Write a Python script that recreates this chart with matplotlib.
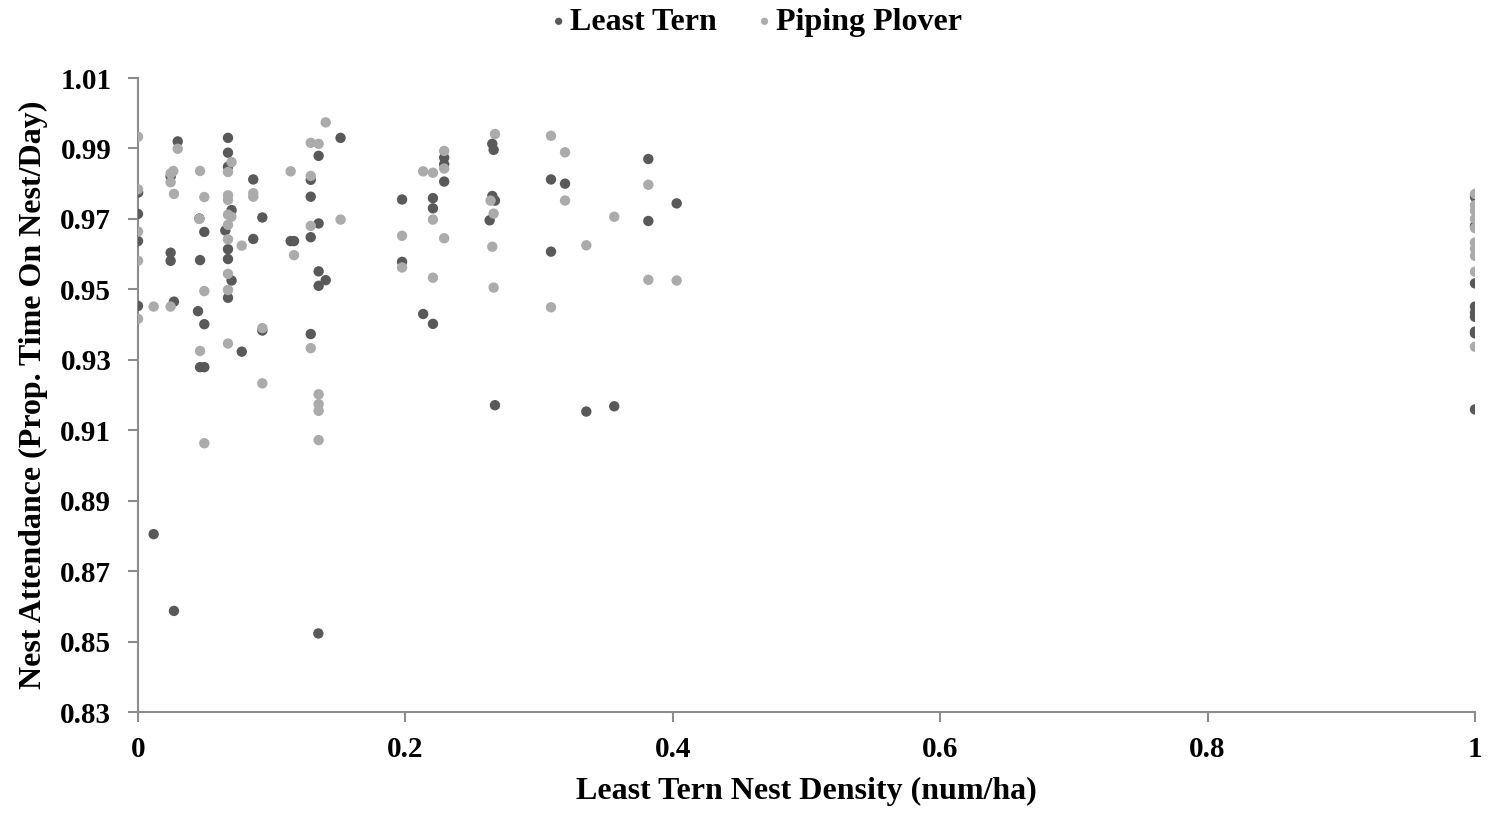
import matplotlib
matplotlib.use("Agg")
import matplotlib.pyplot as plt
from matplotlib.ticker import FixedLocator, FuncFormatter

# Least Tern nest attendance vs Least Tern nest density
lt_x = [0.0, 0.0, 0.0, 0.0, 0.0,
        0.0117, 0.0244, 0.0244, 0.0244, 0.0269, 0.0269, 0.0297,
        0.0449, 0.0459, 0.0464, 0.0464, 0.0496, 0.0496, 0.0496,
        0.0653, 0.0673, 0.0673, 0.0673, 0.0673, 0.0673, 0.0673, 0.070, 0.070,
        0.0776, 0.0862, 0.0862, 0.093, 0.093,
        0.1142, 0.1167, 0.1292, 0.1292, 0.1292, 0.1292,
        0.1349, 0.1351, 0.1351, 0.1351, 0.1351, 0.1404, 0.1515,
        0.1975, 0.1975, 0.2133, 0.2206, 0.2206, 0.2206, 0.229, 0.229, 0.229,
        0.263, 0.265, 0.265, 0.266, 0.267, 0.267,
        0.3089, 0.3089, 0.3194, 0.3353, 0.3562, 0.3817, 0.3817, 0.4029,
        1.0, 1.0, 1.0, 1.0, 1.0, 1.0, 1.0, 1.0, 1.0]
lt_y = [0.9775, 0.9714, 0.9637, 0.9453, 0.9775,
        0.8805, 0.9820, 0.9604, 0.9581, 0.9465, 0.8587, 0.9920,
        0.9438, 0.9701, 0.9583, 0.9279, 0.9663, 0.9401, 0.9279,
        0.9667, 0.9930, 0.9888, 0.9848, 0.9614, 0.9586, 0.9476, 0.9725, 0.9525,
        0.9323, 0.9812, 0.9643, 0.9704, 0.9383,
        0.9637, 0.9637, 0.9811, 0.9763, 0.9648, 0.9373,
        0.8523, 0.9879, 0.9687, 0.9551, 0.9510, 0.9526, 0.9930,
        0.9755, 0.9578, 0.9430, 0.9759, 0.9730, 0.9402, 0.9874, 0.9855, 0.9806,
        0.9696, 0.9913, 0.9765, 0.9896, 0.9752, 0.9171,
        0.9812, 0.9607, 0.9800, 0.9153, 0.9168, 0.9870, 0.9694, 0.9744,
        0.9762, 0.9680, 0.9517, 0.9451, 0.9434, 0.9422, 0.9380, 0.9375, 0.9159]

# Piping Plover nest attendance vs Least Tern nest density
pp_x = [0.0, 0.0, 0.0, 0.0, 0.0,
        0.0117, 0.0244, 0.0244, 0.0244, 0.0264, 0.0269, 0.0297,
        0.0459, 0.0464, 0.0464, 0.0496, 0.0496, 0.0496,
        0.0673, 0.0673, 0.0673, 0.0673, 0.0673, 0.0673, 0.0673, 0.0673, 0.0673,
        0.0698, 0.070, 0.0776, 0.0862, 0.0862, 0.093, 0.093,
        0.1142, 0.1167, 0.1292, 0.1292, 0.1292, 0.1292,
        0.1351, 0.1351, 0.1351, 0.1351, 0.1351, 0.1404, 0.1515,
        0.1975, 0.1975, 0.2133, 0.2206, 0.2206, 0.2206, 0.229, 0.229, 0.229,
        0.2637, 0.265, 0.266, 0.266, 0.267,
        0.3089, 0.3089, 0.3194, 0.3194, 0.3353, 0.3562, 0.3817, 0.3817, 0.4029,
        1.0, 1.0, 1.0, 1.0, 1.0, 1.0, 1.0, 1.0, 1.0, 1.0]
pp_y = [0.9933, 0.9784, 0.9664, 0.9581, 0.9416,
        0.9451, 0.9829, 0.9804, 0.9451, 0.9836, 0.9771, 0.9899,
        0.9700, 0.9836, 0.9325, 0.9762, 0.9495, 0.9063,
        0.9833, 0.9767, 0.9754, 0.9712, 0.9683, 0.9642, 0.9544, 0.9498, 0.9346,
        0.9706, 0.9861, 0.9624, 0.9773, 0.9763, 0.9390, 0.9233,
        0.9835, 0.9597, 0.9916, 0.9822, 0.9680, 0.9333,
        0.9913, 0.9202, 0.9174, 0.9155, 0.9072, 0.9974, 0.9698,
        0.9652, 0.9562, 0.9835, 0.9831, 0.9698, 0.9533, 0.9893, 0.9843, 0.9645,
        0.9752, 0.9621, 0.9715, 0.9505, 0.9941,
        0.9936, 0.9449, 0.9889, 0.9752, 0.9625, 0.9706, 0.9797, 0.9527, 0.9525,
        0.9771, 0.9739, 0.9723, 0.9674, 0.9633, 0.9615, 0.9595, 0.9550, 0.9337, 0.9700]

x_ticks = [0, 0.2, 0.4, 0.6, 0.8, 1]
y_ticks = [0.83, 0.85, 0.87, 0.89, 0.91, 0.93, 0.95, 0.97, 0.99, 1.01]

dark = "#595959"
light = "#ABABAB"
axis_col = "#8C8C8C"
font = ["Liberation Serif", "DejaVu Serif"]

plt.rcParams["font.family"] = font
plt.rcParams["font.weight"] = "bold"

fig = plt.figure(figsize=(14.91, 8.13), dpi=100)
ax = fig.add_axes([138 / 1491, 1 - 712 / 813, (1475 - 138) / 1491, (712 - 78) / 813])

ax.scatter(lt_x, lt_y, s=56, color=dark, edgecolors="none", label="Least Tern", zorder=3)
ax.scatter(pp_x, pp_y, s=56, color=light, edgecolors="none", label="Piping Plover", zorder=3)

ax.set_xlim(0, 1)
ax.set_ylim(0.83, 1.01)
ax.xaxis.set_major_locator(FixedLocator(x_ticks))
ax.yaxis.set_major_locator(FixedLocator(y_ticks))
ax.xaxis.set_major_formatter(FuncFormatter(lambda v, p: f"{v:g}"))
ax.yaxis.set_major_formatter(FuncFormatter(lambda v, p: f"{v:.2f}"))

for s in ["top", "right"]:
    ax.spines[s].set_visible(False)
for s in ["left", "bottom"]:
    ax.spines[s].set_color(axis_col)
    ax.spines[s].set_linewidth(1.5)
    ax.spines[s].set_clip_on(False)

ax.tick_params(axis="y", direction="out", length=7.2, width=1.5, color=axis_col,
               labelsize=21, pad=12)
ax.tick_params(axis="x", direction="out", length=7.2, width=1.5, color=axis_col,
               labelsize=21, pad=10)
for lbl in ax.get_xticklabels() + ax.get_yticklabels():
    lbl.set_fontweight("bold")
    lbl.set_color("black")

ax.set_xlabel("Least Tern Nest Density (num/ha)", fontsize=23, fontweight="bold", labelpad=10)
ax.set_ylabel("Nest Attendance (Prop. Time On Nest/Day)", fontsize=23, fontweight="bold", labelpad=9)

leg = fig.legend(loc="center", bbox_to_anchor=(0.5045, 1 - 22 / 813), ncol=2, frameon=False,
                 prop={"family": font, "weight": "bold", "size": 23},
                 markerscale=0.7, handletextpad=-0.15, columnspacing=1.0,
                 handlelength=1.0)

fig.savefig("out.png", dpi=100)
